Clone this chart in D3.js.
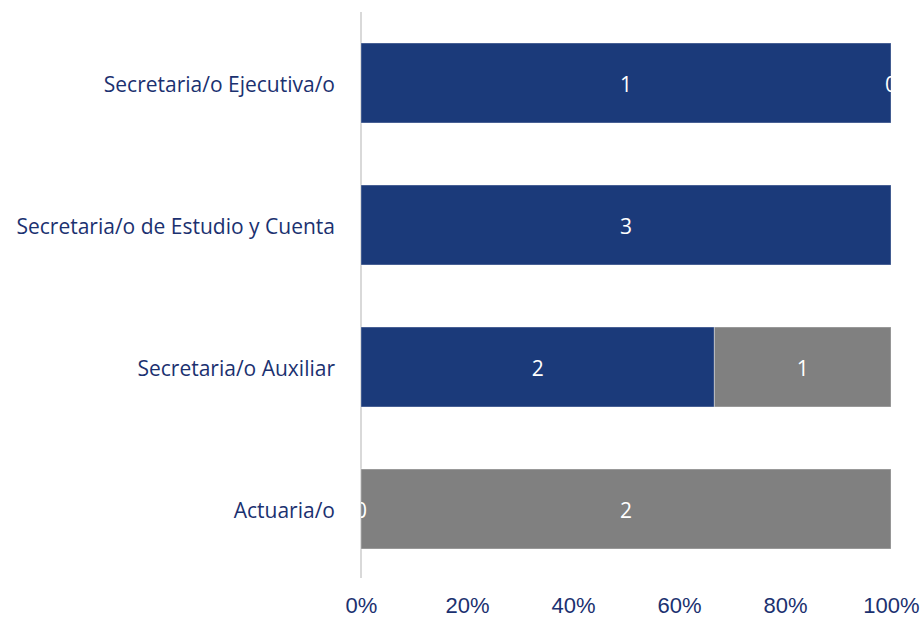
<!DOCTYPE html>
<html>
<head>
<meta charset="utf-8">
<script src="https://cdn.jsdelivr.net/npm/d3@7"></script>
<style>
  html, body { margin: 0; padding: 0; background: #fff; }
  svg { display: block; }
</style>
</head>
<body>
<svg id="chart" width="924" height="618"></svg>
<script>
// Staff positions and counts per group (null = no value recorded)
const categories = [
  "Secretaria/o Ejecutiva/o",
  "Secretaria/o de Estudio y Cuenta",
  "Secretaria/o Auxiliar",
  "Actuaria/o"
];
const seriesA = [1, 3, 2, 0];
const seriesB = [0, null, 1, 2];
const tickValues = [0, 0.2, 0.4, 0.6, 0.8, 1];

const colorA = "#1b3a7a";
const colorB = "#808080";
const textColor = "#1b3170";

const svg = d3.select("#chart");
const plot = { left: 361, right: 891, top: 12, bottom: 580 };

const x = d3.scaleLinear().domain([0, 1]).range([plot.left, plot.right]);
const y = d3.scaleBand()
  .domain(categories)
  .range([plot.top, plot.bottom])
  .paddingInner(0.437)
  .paddingOuter(0.2185);

// Build stacked shares
const rows = categories.map((c, i) => {
  const a = seriesA[i] || 0, b = seriesB[i] || 0;
  const total = a + b;
  return {
    cat: c,
    segs: [
      { key: "A", value: seriesA[i], x0: 0, x1: total ? a / total : 0, color: colorA },
      { key: "B", value: seriesB[i], x0: total ? a / total : 0, x1: 1, color: colorB }
    ]
  };
});

// Clip for the plot area so edge labels are trimmed
svg.append("defs").append("clipPath").attr("id", "plotClip")
  .append("rect")
  .attr("x", plot.left).attr("y", plot.top)
  .attr("width", plot.right - plot.left).attr("height", plot.bottom - plot.top);

// Vertical axis line
svg.append("line")
  .attr("x1", plot.left).attr("x2", plot.left)
  .attr("y1", plot.top).attr("y2", plot.bottom - 2)
  .attr("stroke", "#d9d9d9").attr("stroke-width", 2);

const g = svg.append("g");
rows.forEach(r => {
  r.segs.forEach(s => {
    if (s.value === null || s.x1 - s.x0 <= 0) return;
    g.append("rect")
      .attr("x", x(s.x0))
      .attr("y", y(r.cat))
      .attr("width", x(s.x1) - x(s.x0))
      .attr("height", y.bandwidth())
      .attr("fill", s.color)
      .attr("stroke", "rgba(255,255,255,0.35)")
      .attr("stroke-width", 1);
  });
});

// Value labels (clipped to plot)
const labels = svg.append("g").attr("clip-path", "url(#plotClip)");
rows.forEach(r => {
  r.segs.forEach(s => {
    if (s.value === null) return;
    labels.append("text")
      .attr("x", x((s.x0 + s.x1) / 2))
      .attr("y", y(r.cat) + y.bandwidth() / 2 + 1)
      .attr("dy", "0.36em")
      .attr("text-anchor", "middle")
      .attr("font-family", "'Open Sans', sans-serif")
      .attr("font-size", 21)
      .attr("fill", "#ffffff")
      .text(s.value);
  });
});

// Category labels
svg.append("g").selectAll("text")
  .data(categories)
  .join("text")
  .attr("x", 335)
  .attr("y", d => y(d) + y.bandwidth() / 2 + 1)
  .attr("dy", "0.36em")
  .attr("text-anchor", "end")
  .attr("font-family", "'Open Sans', sans-serif")
  .attr("font-size", 21)
  .attr("fill", textColor)
  .text(d => d);

// Percentage axis
const xAxis = d3.axisBottom(x)
  .tickValues(tickValues)
  .tickFormat(d3.format(".0%"))
  .tickSize(0)
  .tickPadding(0);
const ax = svg.append("g").attr("transform", "translate(0,597)").call(xAxis);
ax.select(".domain").remove();
ax.attr("font-family", null).attr("font-size", null);
ax.selectAll("text")
  .style("font-family", "'Liberation Sans', Arial, sans-serif")
  .style("font-size", "22px")
  .attr("fill", textColor)
  .attr("dy", "0.72em");
</script>
</body>
</html>
